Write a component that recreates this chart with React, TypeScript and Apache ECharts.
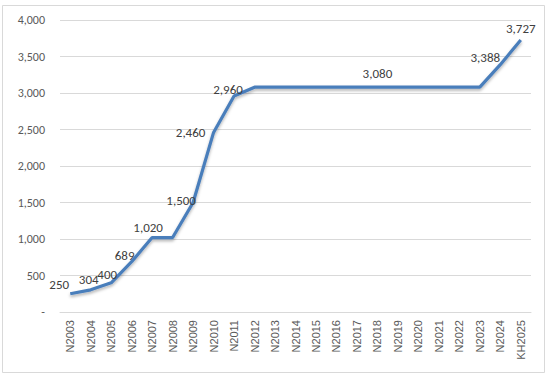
import React, { useEffect, useRef } from "react";
import * as echarts from "echarts";

const categories = [
  "N2003", "N2004", "N2005", "N2006", "N2007", "N2008", "N2009", "N2010",
  "N2011", "N2012", "N2013", "N2014", "N2015", "N2016", "N2017", "N2018",
  "N2019", "N2020", "N2021", "N2022", "N2023", "N2024", "KH2025",
];
const values = [
  250, 304, 400, 689, 1020, 1020, 1500, 2460, 2960, 3080, 3080, 3080, 3080,
  3080, 3080, 3080, 3080, 3080, 3080, 3080, 3080, 3388, 3727,
];
const labeledIndices = [0, 1, 2, 3, 4, 6, 7, 8, 15, 21, 22];
const yTicks = [0, 500, 1000, 1500, 2000, 2500, 3000, 3500, 4000];

const labelOffsets: Record<number, [number, number]> = {
  0: [-11, -9],
  1: [-2, -10],
  2: [-4, -8],
  3: [-7, -6],
  4: [-4, -10],
  6: [-12, -2],
  7: [-23, 0],
  8: [-6, -6],
  15: [0, -14],
  21: [-15, -7],
  22: [0, -11],
};

export default function App() {
  const ref = useRef<HTMLDivElement>(null);
  useEffect(() => {
    if (!ref.current) return;
    const chart = echarts.init(ref.current, undefined, { renderer: "svg" });
    const fmt = (v: number) => (v === 0 ? "-" : v.toLocaleString("en-US"));
    const data = values.map((v, i) => {
      const show = labeledIndices.includes(i);
      return {
        value: v,
        label: show
          ? {
              show: true,
              position: "inside",
              offset: labelOffsets[i] || [0, -12],
              formatter: () => v.toLocaleString("en-US"),
            }
          : { show: false },
      };
    });
    chart.setOption({
      animation: false,
      backgroundColor: "#ffffff",
      graphic: [
        {
          type: "rect",
          shape: { x: 2.5, y: 5.5, width: 542, height: 367 },
          style: { fill: "none", stroke: "#d9d9d9", lineWidth: 1 },
          silent: true,
        },
      ],
      grid: { left: 60, right: 19, top: 20, bottom: 67 },
      xAxis: {
        type: "category",
        data: categories,
        boundaryGap: true,
        axisLine: { show: true, lineStyle: { color: "#d9d9d9" } },
        axisTick: { show: false },
        axisLabel: {
          rotate: 90,
          interval: 0,
          color: "#595959",
          fontSize: 11,
          fontFamily: "Liberation Sans, Arial, sans-serif",
          margin: 8,
        },
      },
      yAxis: {
        type: "value",
        min: 0,
        max: 4000,
        interval: 500,
        axisLine: { show: false },
        axisTick: { show: false },
        splitLine: { lineStyle: { color: "#d9d9d9", width: 1 } },
        axisLabel: {
          color: "#595959",
          fontSize: 12,
          fontFamily: "Carlito, Lato, sans-serif",
          margin: 15,
          formatter: (v: number) => (yTicks.includes(v) ? fmt(v) : ""),
        },
      },
      series: [
        {
          type: "line",
          data,
          symbol: "circle",
          symbolSize: 0.1,
          showSymbol: true,
          itemStyle: { color: "#4a7ebb" },
          lineStyle: {
            color: "#4a7ebb",
            width: 3.2,
            shadowColor: "rgba(0,0,0,0.3)",
            shadowBlur: 3,
            shadowOffsetY: 2,
          },
          label: {
            color: "#404040",
            fontSize: 13,
            fontFamily: "Carlito, Lato, sans-serif",
            align: "center",
            verticalAlign: "middle",
          },
        },
      ],
    });
    return () => chart.dispose();
  }, []);
  return (
    <div
      ref={ref}
      style={{ position: "absolute", left: 0, top: 0, width: 550, height: 379 }}
    />
  );
}
